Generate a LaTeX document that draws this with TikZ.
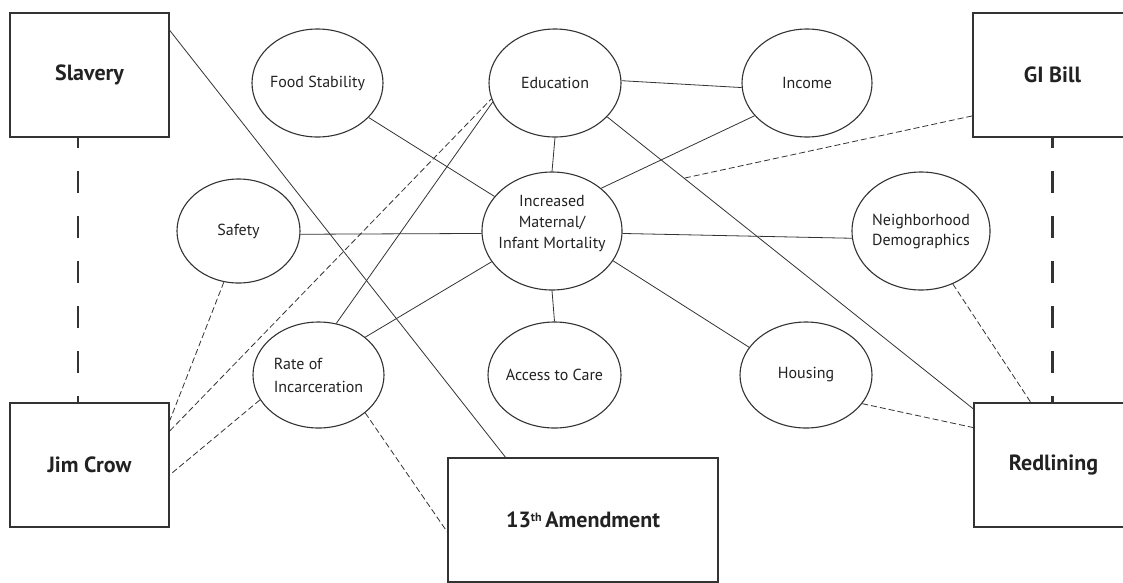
\documentclass[tikz,border=0pt]{standalone}
\usepackage{fontspec}
\setmainfont{PT Sans}
\usetikzlibrary{shapes.geometric,calc}
\definecolor{ink}{HTML}{333333}
\definecolor{txt}{HTML}{222222}
\begin{document}
\begin{tikzpicture}[x=1pt,y=-1pt,
  bigbox/.style={draw=ink,line width=1.6pt,rectangle,minimum width=159pt,minimum height=124pt,inner sep=0pt,
    font=\fontsize{22}{26}\selectfont\bfseries,text=txt},
  ell/.style={draw=ink,line width=1.1pt,ellipse,inner sep=0pt},
  lbl/.style={font=\fontsize{16}{21}\selectfont,text=txt,align=center,inner sep=0pt},
  conn/.style={draw=ink,line width=0.8pt},
  dconn/.style={conn,dash pattern=on 6pt off 3pt},
  tdash/.style={draw=ink,line width=2.2pt,dash pattern=on 22pt off 23pt,dash phase=12pt}]
\useasboundingbox (0,0) rectangle (1123,582);
\clip (0,0) rectangle (1123,582);

% boxes
\node[bigbox] (slav) at (89.5,75) {Slavery};
\node[bigbox] (gib) at (1052.5,75) {GI Bill};
\node[bigbox] (jim) at (89.5,465) {Jim Crow};
\node[bigbox] (red) at (1053.5,465) {Redlining};
\node[bigbox,minimum width=270pt] (thir) at (583,520) {13{\fontsize{12}{12}\selectfont\raisebox{6pt}{th}}\,Amendment};

% ellipses
\node[ell,minimum width=131pt,minimum height=108pt,label={[lbl]center:Food Stability}] (fs) at (317.5,83) {};
\node[ell,minimum width=132pt,minimum height=108pt,label={[lbl]center:Education}] (edu) at (555,83) {};
\node[ell,minimum width=130pt,minimum height=108pt,label={[lbl]center:Income}] (inc) at (807,83) {};
\node[ell,minimum width=123pt,minimum height=104pt,label={[lbl]center:Safety}] (saf) at (238.5,231) {};
\node[ell,minimum width=140pt,minimum height=118pt,label={[lbl,yshift=7pt]center:{Increased\\Maternal/\\Infant Mortality}}] (imim) at (552,231) {};
\node[ell,minimum width=138pt,minimum height=118pt,label={[lbl,font=\fontsize{16}{20}\selectfont]center:{Neighborhood\\Demographics}}] (nd) at (921,231) {};
\node[ell,minimum width=131pt,minimum height=106pt,label={[lbl,align=left,font=\fontsize{16}{23}\selectfont]center:{Rate of\\Incarceration}}] (rate) at (318.5,375) {};
\node[ell,minimum width=133pt,minimum height=106pt,label={[lbl]center:Access to Care}] (acc) at (554.5,375) {};
\node[ell,minimum width=132pt,minimum height=106pt,label={[lbl]center:Housing}] (hou) at (806,375) {};

% point on the Education--Redlining connector
\coordinate (gij) at ($(edu.-33)!0.21!(red.145)$);

% solid connectors
\draw[conn] (slav.29) -- (thir.141.5);
\draw[conn] (fs.-34) -- (imim.149);
\draw[conn] (edu.south) -- (imim.north);
\draw[conn] (edu.2) -- (inc.184);
\draw[conn] (inc.212) -- (imim.41);
\draw[conn] (edu.-33) -- (red.145);
\draw[conn] (saf.-3) -- (imim.182);
\draw[conn] (imim.-2) -- (nd.186);
\draw[conn] (imim.south) -- (acc.north);
\draw[conn] (imim.-26) -- (hou.154.6);
\draw[conn] (imim.207) -- (rate.39.5);
\draw[conn] (rate.71) -- (edu.197);

% dashed connectors
\draw[dconn] (jim.23.8) -- (edu.194);
\draw[dconn] (saf.254) -- (jim.29.5);
\draw[dconn] (rate.203) -- (jim.-7.2);
\draw[dconn] (rate.-39) -- (thir.185.9);
\draw[dconn] (gib.207.3) -- (gij);
\draw[dconn] (nd.-59.3) -- (red.110.8);
\draw[dconn] (hou.-27.8) -- (red.155);

% thick dashed verticals
\draw[tdash] ([xshift=-11.5pt]slav.south) -- ([xshift=-11.5pt]jim.north);
\draw[tdash] (gib.south) -- (gib.south |- red.north);
\end{tikzpicture}
\end{document}
